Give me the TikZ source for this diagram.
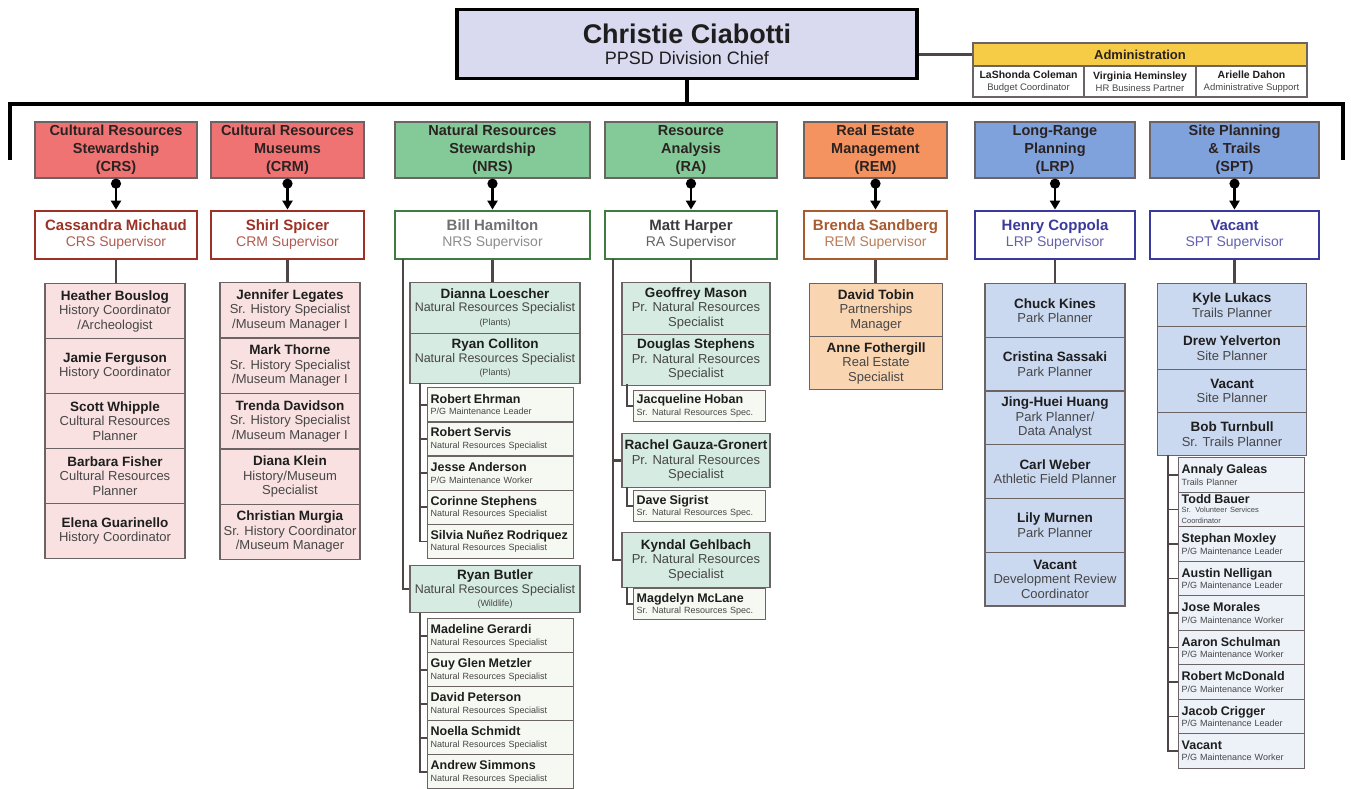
\documentclass[tikz,border=0pt]{standalone}
\usepackage{fontspec}
\setmainfont{Liberation Sans}
\usetikzlibrary{arrows.meta}
\definecolor{chieffill}{HTML}{D9D9F0}
\definecolor{admyellow}{HTML}{F6CB45}
\definecolor{crsred}{HTML}{EF7373}
\definecolor{crspink}{HTML}{F9E1E1}
\definecolor{nrsgreen}{HTML}{84CA98}
\definecolor{nrsmint}{HTML}{D6EBE1}
\definecolor{nrspale}{HTML}{F6F9F1}
\definecolor{remorange}{HTML}{F4935F}
\definecolor{rempeach}{HTML}{FAD5B2}
\definecolor{lrpblue}{HTML}{7FA2DC}
\definecolor{lrplight}{HTML}{CAD8F0}
\definecolor{sptpale}{HTML}{EDF2F9}
\definecolor{supred}{HTML}{9C3226}
\definecolor{supgreen}{HTML}{3F7C42}
\definecolor{supbrown}{HTML}{A85B2F}
\definecolor{supnavy}{HTML}{3A3A9C}
\definecolor{namegray}{HTML}{707070}
\definecolor{namedark}{HTML}{3C3C3C}
\definecolor{cellline}{HTML}{6C6464}
\definecolor{linkgray}{HTML}{4E4646}
\definecolor{nametext}{HTML}{1E1E1E}
\definecolor{titletext}{HTML}{464646}
\definecolor{depttext}{HTML}{2B2222}
\newcommand\fsz[2]{\fontsize{#1}{#2}\selectfont}
\newcommand\nm[1]{{\bfseries\fsz{13.5}{15}\color{nametext}#1}}
\newcommand\nmsmall[1]{{\bfseries\fsz{12.5}{13}\color{nametext}#1}}
\begin{document}
\begin{tikzpicture}[x=1pt, y=-1pt, font=\fsz{13}{14.5}, >={Triangle[length=9pt, width=10pt]},
	box/.style={draw=cellline, line width=1.3pt, inner sep=1pt, align=center},
	chief/.style={box, draw=black, line width=3.5pt, fill=chieffill, minimum width=460, minimum height=69, font=\fsz{18}{21}, text=nametext},
	dept/.style={box, fill=#1, minimum height=56, font=\bfseries\fsz{14.5}{18}, text=depttext},
	boss/.style={box, draw=#1, line width=2.8pt, fill=white, minimum height=48, font=\fsz{14}{16}},
	cell/.style={box, fill=#1, anchor=north, text=titletext},
	item/.style={box, fill=#1, anchor=north west, align=left, inner xsep=3pt, font=\fsz{9}{11.5}, text=titletext},
	link/.style={draw=linkgray, line width=2.6pt},
	twig/.style={draw=linkgray, line width=1.8pt},
	dotarrow/.style={draw=black, line width=2.8pt, {Circle[length=10pt]}->}]
	\useasboundingbox (0,0) rectangle (1351,789);
	\path (687,104) coordinate (bus) (10,160) coordinate (busl) (1343,160) coordinate (busr)
		(403,259) coordinate (nrsl) (420,383) coordinate (nrsup) (420,613) coordinate (nrsdn)
		(613,259) coordinate (ral) (627,384) coordinate (raj) (627,487) coordinate (rar) (627,587) coordinate (rak)
		(1168,455) coordinate (sptdn);
	% division chief and administration
	\node[chief] (chief) at (687,44) {{\bfseries\fsz{27}{30}Christie Ciabotti}\\PPSD Division Chief};
	\node[box, fill=admyellow, minimum width=334, minimum height=23, font=\bfseries\fsz{13}{14}, text=depttext] (adm) at (1140,54.5) {Administration};
	\foreach \n/\t/\xa/\xb [count=\i] in {LaShonda Coleman/Budget Coordinator/973/1084, Virginia Heminsley/HR Business Partner/1084/1196, Arielle Dahon/Administrative Support/1196/1307}
		\node[box, fill=white, minimum width=\xb-\xa, minimum height=31, font=\fsz{9.5}{11.5}, text=titletext] (adm\i) at ({(\xa+\xb)/2},81.5) {{\bfseries\fsz{10.5}{12}\color{nametext}\n}\\\t};
	\draw[link] (chief.east |- adm.west) -- (adm);
	\draw[line width=3.5pt] (busl) |- (bus) -| (busr);
	\draw[line width=3.5pt] (chief) -- (bus);
	% sections and supervisors
	\foreach \dep/\xa/\xb/\cf/\cb/\cn/\hd/\sn/\st in {
		crs/35/197/crsred/supred/supred/{Cultural Resources\\Stewardship\\(CRS)}/{Cassandra Michaud}/{CRS Supervisor},
		crm/211/364/crsred/supred/supred/{Cultural Resources\\Museums\\(CRM)}/{Shirl Spicer}/{CRM Supervisor},
		nrs/395/590/nrsgreen/supgreen/namegray/{Natural Resources\\Stewardship\\(NRS)}/{Bill Hamilton}/{NRS Supervisor},
		ra/605/777/nrsgreen/supgreen/namedark/{Resource\\Analysis\\(RA)}/{Matt Harper}/{RA Supervisor},
		rem/804/947/remorange/supbrown/supbrown/{Real Estate\\Management\\(REM)}/{Brenda Sandberg}/{REM Supervisor},
		lrp/975/1135/lrpblue/supnavy/supnavy/{Long-Range\\Planning\\(LRP)}/{Henry Coppola}/{LRP Supervisor},
		spt/1150/1319/lrpblue/supnavy/supnavy/{Site Planning\\\& Trails\\(SPT)}/{Vacant}/{SPT Supervisor}}{
		\node[dept=\cf, minimum width=\xb-\xa] (\dep) at ({(\xa+\xb)/2},150) {\hd};
		\node[boss=\cb, minimum width=\xb-\xa, text=\cn!80!white] (sup\dep) at ({(\xa+\xb)/2},235) {{\bfseries\fsz{15}{16}\color{\cn}\sn}\\\st};
		\draw[dotarrow] (\dep) -- (sup\dep);
	}
	% CRS staff
	\foreach \n/\t [count=\i] in {Heather Bouslog/{History Coordinator\\/Archeologist}, Jamie Ferguson/History Coordinator, Scott Whipple/{Cultural Resources\\Planner}, Barbara Fisher/{Cultural Resources\\Planner}, Elena Guarinello/History Coordinator}
		\node[cell=crspink, minimum width=140, minimum height=55] (crs\i) at (115,{283+55*(\i-1)}) {\nm{\n}\\\t};
	\draw[link] (supcrs) -- (supcrs.south |- crs1.north);
	% CRM staff
	\foreach \n/\t [count=\i] in {Jennifer Legates/{Sr. History Specialist\\/Museum Manager I}, Mark Thorne/{Sr. History Specialist\\/Museum Manager I}, Trenda Davidson/{Sr. History Specialist\\/Museum Manager I}, Diana Klein/{History/Museum\\Specialist}, Christian Murgia/{Sr. History Coordinator\\/Museum Manager}}
		\node[cell=crspink, minimum width=140, minimum height=55.4] (crm\i) at (290,{282+55.4*(\i-1)}) {\nm{\n}\\\t};
	\draw[link] (supcrm) -- (supcrm.south |- crm1.north);
	% NRS staff
	\foreach \n/\t [count=\i] in {Dianna Loescher/Plants, Ryan Colliton/Plants}
		\node[cell=nrsmint, minimum width=170, minimum height=50.5, font=\fsz{12.5}{13.5}] (nrs\i) at (495,{282+50.5*(\i-1)}) {\nm{\n}\\Natural Resources Specialist\\{\fsz{9}{10}(\t)}};
	\node[cell=nrsmint, minimum width=170, minimum height=47, font=\fsz{12.5}{13.5}] (nrs3) at (495,565) {\nm{Ryan Butler}\\Natural Resources Specialist\\{\fsz{9}{10}(Wildlife)}};
	\draw[link] (supnrs) -- (supnrs.south |- nrs1.north);
	\draw[link] (nrsl) |- (nrs3);
	\foreach \n/\t [count=\i] in {Robert Ehrman/{P/G Maintenance Leader}, Robert Servis/Natural Resources Specialist, Jesse Anderson/{P/G Maintenance Worker}, Corinne Stephens/Natural Resources Specialist, Silvia Nuñez Rodriquez/Natural Resources Specialist}{
		\node[item=nrspale, text width=140, minimum height=34.2] (nrsa\i) at (427,{387+34.2*(\i-1)}) {\nmsmall{\n}\\\t};
		\draw[twig] (nrsup) |- (nrsa\i);
	}
	\foreach \n [count=\i] in {Madeline Gerardi, Guy Glen Metzler, David Peterson, Noella Schmidt, Andrew Simmons}{
		\node[item=nrspale, text width=140, minimum height=34] (nrsb\i) at (427,{618+34*(\i-1)}) {\nmsmall{\n}\\Natural Resources Specialist};
		\draw[twig] (nrsdn) |- (nrsb\i);
	}
	% RA staff
	\foreach \n [count=\i] in {Geoffrey Mason, Douglas Stephens}
		\node[cell=nrsmint, minimum width=148, minimum height=51.5] (ra\i) at (696,{282+51.5*(\i-1)}) {\nm{\n}\\Pr. Natural Resources\\Specialist};
	\node[cell=nrsmint, minimum width=148, minimum height=54] (ra3) at (696,433) {\nm{Rachel Gauza-Gronert}\\Pr. Natural Resources\\Specialist};
	\node[cell=nrsmint, minimum width=148, minimum height=55] (ra4) at (696,532) {\nm{Kyndal Gehlbach}\\Pr. Natural Resources\\Specialist};
	\draw[link] (supra) -- (supra.south |- ra1.north);
	\draw[link] (ral) |- (ra3);
	\draw[link] (ral) |- (ra4);
	\foreach \n/\y/\c [count=\i] in {Jacqueline Hoban/390/raj, Dave Sigrist/490/rar, Magdelyn McLane/588/rak}{
		\node[item=nrspale, text width=126, minimum height=31] (rasub\i) at (633,\y) {\nmsmall{\n}\\Sr. Natural Resources Spec.};
		\draw[twig] (\c) |- (rasub\i);
	}
	% REM staff
	\foreach \n/\t [count=\i] in {David Tobin/{Partnerships\\Manager}, Anne Fothergill/{Real Estate\\Specialist}}
		\node[cell=rempeach, minimum width=133, minimum height=53] (rem\i) at (876,{283+53*(\i-1)}) {\nm{\n}\\\t};
	\draw[link] (suprem) -- (suprem.south |- rem1.north);
	% LRP staff
	\foreach \n/\t [count=\i] in {Chuck Kines/Park Planner, Cristina Sassaki/Park Planner, Jing-Huei Huang/{Park Planner/\\Data Analyst}, Carl Weber/Athletic Field Planner, Lily Murnen/Park Planner, Vacant/{Development Review\\Coordinator}}
		\node[cell=lrplight, minimum width=140, minimum height=53.7] (lrp\i) at (1055,{283+53.7*(\i-1)}) {\nm{\n}\\\t};
	\draw[link] (suplrp) -- (suplrp.south |- lrp1.north);
	% SPT staff
	\foreach \n/\t [count=\i] in {Kyle Lukacs/Trails Planner, Drew Yelverton/Site Planner, Vacant/Site Planner, Bob Turnbull/Sr. Trails Planner}
		\node[cell=lrplight, minimum width=149, minimum height=43] (spt\i) at (1232,{283+43*(\i-1)}) {\nm{\n}\\\t};
	\draw[link] (supspt) -- (supspt.south |- spt1.north);
	\foreach \n/\t [count=\i] in {Annaly Galeas/Trails Planner, Todd Bauer/{\fsz{7.5}{8.5}Sr. Volunteer Services\\Coordinator}, Stephan Moxley/{P/G Maintenance Leader}, Austin Nelligan/{P/G Maintenance Leader}, Jose Morales/{P/G Maintenance Worker}, Aaron Schulman/{P/G Maintenance Worker}, Robert McDonald/{P/G Maintenance Worker}, Jacob Crigger/{P/G Maintenance Leader}, Vacant/{P/G Maintenance Worker}}{
		\node[item=sptpale, text width=120, minimum height=34.5] (spta\i) at (1178,{457+34.5*(\i-1)}) {\nmsmall{\n}\\\t};
		\draw[twig] (sptdn) |- (spta\i);
	}
\end{tikzpicture}
\end{document}
